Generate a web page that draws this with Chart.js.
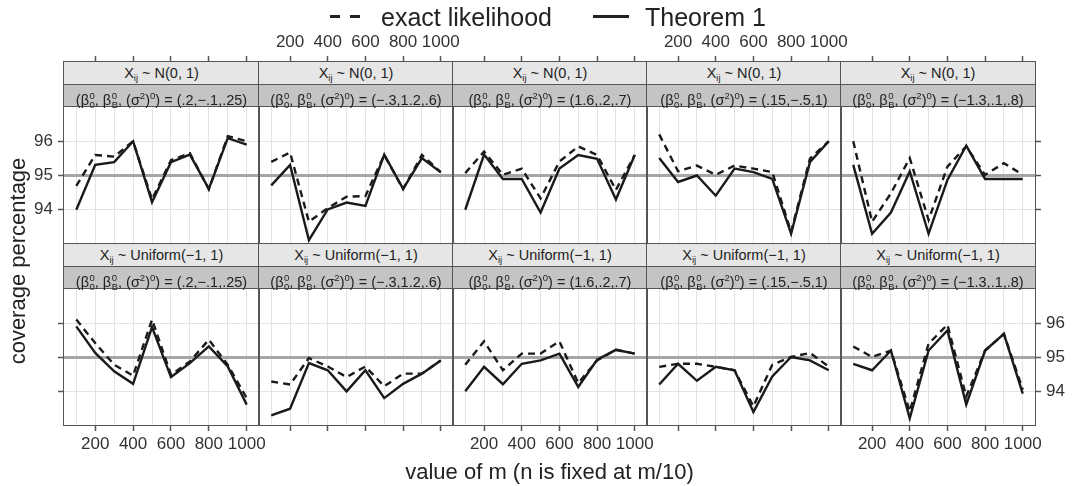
<!DOCTYPE html>
<html>
<head>
<meta charset="utf-8">
<script src="https://cdn.jsdelivr.net/npm/chart.js@4.4.1/dist/chart.umd.min.js"></script>
<style>
body { margin: 0; background: #fff; font-family: "Liberation Sans", Arial, sans-serif; color: #222; }
#wrap { position: relative; width: 1073px; height: 486px; overflow: hidden; }
canvas { position: absolute; }
.strip { position: absolute; box-sizing: border-box; border-bottom: 1px solid #555; text-align: center;
  font-size: 14.5px; line-height: 22px; white-space: nowrap; color: #222; }
.s1 { background: #e6e6e6; }
.s2 { background: #c4c4c4; }
.frame { position: absolute; box-sizing: border-box; border: 1.5px solid #555; pointer-events: none; }
.ss { display: inline-block; font-size: 9.5px; line-height: 9px; vertical-align: -3px; text-align: left; margin-left: 0.5px; }
.ss span { display: block; }
.dn { font-size: 9.5px; vertical-align: -3px; }
.up { font-size: 9.5px; vertical-align: 6px; }
.txt { position: absolute; white-space: nowrap; color: #222; }
</style>
</head>
<body>
<div id="wrap"></div>
<script>
// x values (m) and axis marks
var M_VALUES = [100, 200, 300, 400, 500, 600, 700, 800, 900, 1000];
var X_GRID = [100, 200, 300, 400, 500, 600, 700, 800, 900, 1000];
var X_TICKS = [200, 400, 600, 800, 1000];
var Y_TICKS = [94, 95, 96];

// strip labels
var DISTS = ['N(0, 1)', 'Uniform(\u22121, 1)'];
var PARAMS = ['.2,\u2212.1,.25', '\u2212.3,1.2,.6', '1.6,.2,.7', '.15,\u2212.5,1', '\u22121.3,.1,.8'];

// coverage percentage, X ~ N(0,1)
var exactNormal = [
  [94.7, 95.6, 95.55, 96.0, 94.3, 95.45, 95.65, 94.6, 96.15, 96.0],
  [95.4, 95.67, 93.65, 94.05, 94.38, 94.4, 95.6, 94.6, 95.6, 95.1],
  [95.07, 95.7, 95.02, 95.2, 94.33, 95.41, 95.85, 95.6, 94.58, 95.6],
  [96.2, 95.12, 95.29, 95.02, 95.29, 95.2, 95.1, 93.35, 95.49, 96.0],
  [96.0, 93.65, 94.48, 95.51, 93.7, 95.26, 95.85, 95.02, 95.36, 95.02]
];
var thm1Normal = [
  [94.0, 95.31, 95.39, 96.0, 94.22, 95.39, 95.61, 94.61, 96.09, 95.9],
  [94.71, 95.31, 93.11, 94.01, 94.21, 94.11, 95.61, 94.61, 95.51, 95.09],
  [94.0, 95.61, 94.9, 94.9, 93.92, 95.2, 95.6, 95.49, 94.3, 95.6],
  [95.51, 94.81, 95.0, 94.41, 95.2, 95.1, 94.9, 93.3, 95.39, 96.0],
  [95.31, 93.3, 93.92, 95.12, 93.3, 94.87, 95.87, 94.9, 94.9, 94.9]
];

// coverage percentage, X ~ Uniform(-1,1)
var exactUniform = [
  [96.1, 95.41, 94.77, 94.45, 96.1, 94.48, 94.87, 95.51, 94.77, 93.79],
  [94.28, 94.19, 94.97, 94.72, 94.41, 94.72, 94.14, 94.51, 94.51, 94.9],
  [94.77, 95.46, 94.61, 95.1, 95.1, 95.46, 94.23, 94.9, 95.21, 95.1],
  [94.71, 94.8, 94.8, 94.71, 94.61, 93.55, 94.77, 95.0, 95.12, 94.72],
  [95.31, 95.0, 95.19, 93.4, 95.39, 95.95, 93.84, 95.19, 95.68, 94.04]
];
var thm1Uniform = [
  [95.9, 95.12, 94.58, 94.21, 95.88, 94.41, 94.82, 95.31, 94.72, 93.6],
  [93.28, 93.48, 94.82, 94.61, 93.99, 94.61, 93.79, 94.21, 94.51, 94.9],
  [93.99, 94.71, 94.2, 94.8, 94.9, 95.1, 94.12, 94.92, 95.21, 95.1],
  [94.19, 94.8, 94.3, 94.71, 94.61, 93.38, 94.43, 95.0, 94.9, 94.61],
  [94.8, 94.61, 95.19, 93.2, 95.19, 95.78, 93.6, 95.19, 95.68, 93.92]
];

/* layout of the lattice */
var LEFTS = [64, 259, 453, 647, 841];
var RIGHT_EDGE = 1035;
var ROW_TOP = [62, 244];
var ROW_BOTTOM = [244, 425];
var STRIP_H = 22.5;
var PAD = 45;
var LINE_COLOR = '#1a1a1a';
var TEXT_COLOR = '#333';

var wrap = document.getElementById('wrap');

function addText(html, css) {
  var d = document.createElement('div');
  d.className = 'txt';
  d.innerHTML = html;
  for (var k in css) d.style[k] = css[k];
  wrap.appendChild(d);
  return d;
}

var overlays = [];

function makePanel(r, c) {
  var L = LEFTS[c];
  var R = c < 4 ? LEFTS[c + 1] : RIGHT_EDGE;
  var W = R - L;
  var top = ROW_TOP[r], bottom = ROW_BOTTOM[r];
  var H = bottom - top;
  var plotH = H - 2 * STRIP_H;
  var yMax = 93 + H / plotH * 4;

  var exact = r === 0 ? exactNormal[c] : exactUniform[c];
  var thm1 = r === 0 ? thm1Normal[c] : thm1Uniform[c];

  // lattice style axes: alternating labels outside
  var showX = (r === 0 && (c === 1 || c === 3)) || (r === 1 && (c === 0 || c === 2 || c === 4));
  var yPos = c === 4 ? 'right' : 'left';
  var yTicks = c === 0 || c === 4;
  var showY = (r === 0 && c === 0) || (r === 1 && c === 4);

  var cv = document.createElement('canvas');
  cv.width = W + 2 * PAD;
  cv.height = H + 2 * PAD;
  cv.style.left = (L - PAD) + 'px';
  cv.style.top = (top - PAD) + 'px';
  cv.style.width = cv.width + 'px';
  cv.style.height = cv.height + 'px';
  wrap.appendChild(cv);

  new Chart(cv, {
    type: 'line',
    data: {
      datasets: [{
        label: 'exact likelihood',
        data: M_VALUES.map(function (m, k) { return { x: m, y: exact[k] }; }),
        borderColor: LINE_COLOR,
        borderWidth: 2.4,
        borderDash: [7, 5],
        pointRadius: 0,
        tension: 0
      }, {
        label: 'Theorem 1',
        data: M_VALUES.map(function (m, k) { return { x: m, y: thm1[k] }; }),
        borderColor: LINE_COLOR,
        borderWidth: 2.4,
        pointRadius: 0,
        tension: 0
      }]
    },
    options: {
      responsive: false,
      animation: false,
      events: [],
      layout: {
        padding: {
          left: yPos === 'left' ? 0 : PAD,
          right: yPos === 'right' ? 0 : PAD,
          top: r === 0 ? 0 : PAD,
          bottom: r === 1 ? 0 : PAD
        }
      },
      plugins: { legend: { display: false }, tooltip: { enabled: false } },
      scales: {
        x: {
          type: 'linear',
          position: r === 0 ? 'top' : 'bottom',
          min: 35,
          max: 1065,
          afterBuildTicks: function (a) { a.ticks = X_GRID.map(function (v) { return { value: v }; }); },
          afterFit: function (a) { a.height = PAD; },
          ticks: {
            autoSkip: false, maxRotation: 0, minRotation: 0, padding: 3,
            font: { family: 'Liberation Sans', size: 17 }, color: TEXT_COLOR,
            callback: function (v) { return showX && X_TICKS.indexOf(v) >= 0 ? String(v) : ''; }
          },
          grid: {
            color: '#e3e3e3', lineWidth: 1, tickLength: 6, tickWidth: 1.5,
            tickColor: function (ctx) { return ctx.tick && X_TICKS.indexOf(ctx.tick.value) >= 0 ? '#555' : 'rgba(0,0,0,0)'; }
          },
          border: { display: false }
        },
        y: {
          type: 'linear',
          position: yPos,
          min: 93,
          max: yMax,
          afterBuildTicks: function (a) { a.ticks = Y_TICKS.map(function (v) { return { value: v }; }); },
          afterFit: function (a) { a.width = PAD; },
          ticks: {
            padding: 5,
            font: { family: 'Liberation Sans', size: 17 }, color: TEXT_COLOR,
            callback: function (v) { return showY ? String(v) : ''; }
          },
          grid: {
            color: function (ctx) { return ctx.tick && ctx.tick.value === 95 ? '#a6a6a6' : '#e3e3e3'; },
            lineWidth: function (ctx) { return ctx.tick && ctx.tick.value === 95 ? 3 : 1; },
            drawTicks: yTicks, tickLength: 6, tickWidth: 1.5, tickColor: '#555'
          },
          border: { display: false }
        }
      }
    }
  });

  overlays.push({ L: L, W: W, top: top, H: H, r: r, c: c });
}

for (var r = 0; r < 2; r++) {
  for (var c = 0; c < 5; c++) makePanel(r, c);
}

// strips and panel frames go above the canvases
overlays.forEach(function (p) {
  var s1 = document.createElement('div');
  s1.className = 'strip s1';
  s1.style.left = p.L + 'px';
  s1.style.top = p.top + 'px';
  s1.style.width = p.W + 'px';
  s1.style.height = STRIP_H + 'px';
  s1.innerHTML = 'X<span class="dn">ij</span> ~ ' + DISTS[p.r];
  wrap.appendChild(s1);

  var s2 = document.createElement('div');
  s2.className = 'strip s2';
  s2.style.left = p.L + 'px';
  s2.style.top = (p.top + STRIP_H) + 'px';
  s2.style.width = p.W + 'px';
  s2.style.height = STRIP_H + 'px';
  s2.innerHTML = '(\u03b2<span class="ss"><span>0</span><span>0</span></span>, ' +
    '\u03b2<span class="ss"><span>0</span><span>B</span></span>, ' +
    '(\u03c3<span class="up">2</span>)<span class="up">0</span>) = (' + PARAMS[p.c] + ')';
  wrap.appendChild(s2);

  var f = document.createElement('div');
  f.className = 'frame';
  f.style.left = (p.L - 0.75) + 'px';
  f.style.top = (p.top - 0.75) + 'px';
  f.style.width = (p.W + 1.5) + 'px';
  f.style.height = (p.H + 1.5) + 'px';
  wrap.appendChild(f);
});

// legend
var dash = document.createElement('div');
dash.style.cssText = 'position:absolute;left:330px;top:15px;width:30px;height:2.5px;' +
  'background:repeating-linear-gradient(to right,#222 0 10px,transparent 10px 20px);';
wrap.appendChild(dash);
addText('exact likelihood', { left: '381px', top: '5px', fontSize: '25px', lineHeight: '25px' });
var solid = document.createElement('div');
solid.style.cssText = 'position:absolute;left:593px;top:15px;width:36px;height:2.5px;background:#222;';
wrap.appendChild(solid);
addText('Theorem 1', { left: '645px', top: '5px', fontSize: '25px', lineHeight: '25px' });

// axis titles
addText('value of m (n is fixed at m/10)', {
  left: '64px', width: '971px', textAlign: 'center', top: '461px', fontSize: '22px', lineHeight: '22px'
});
addText('coverage percentage', {
  left: (18 - 150) + 'px', top: (260.5 - 11) + 'px', width: '300px', textAlign: 'center',
  fontSize: '22px', lineHeight: '22px', transform: 'rotate(-90deg)'
});
</script>
</body>
</html>
